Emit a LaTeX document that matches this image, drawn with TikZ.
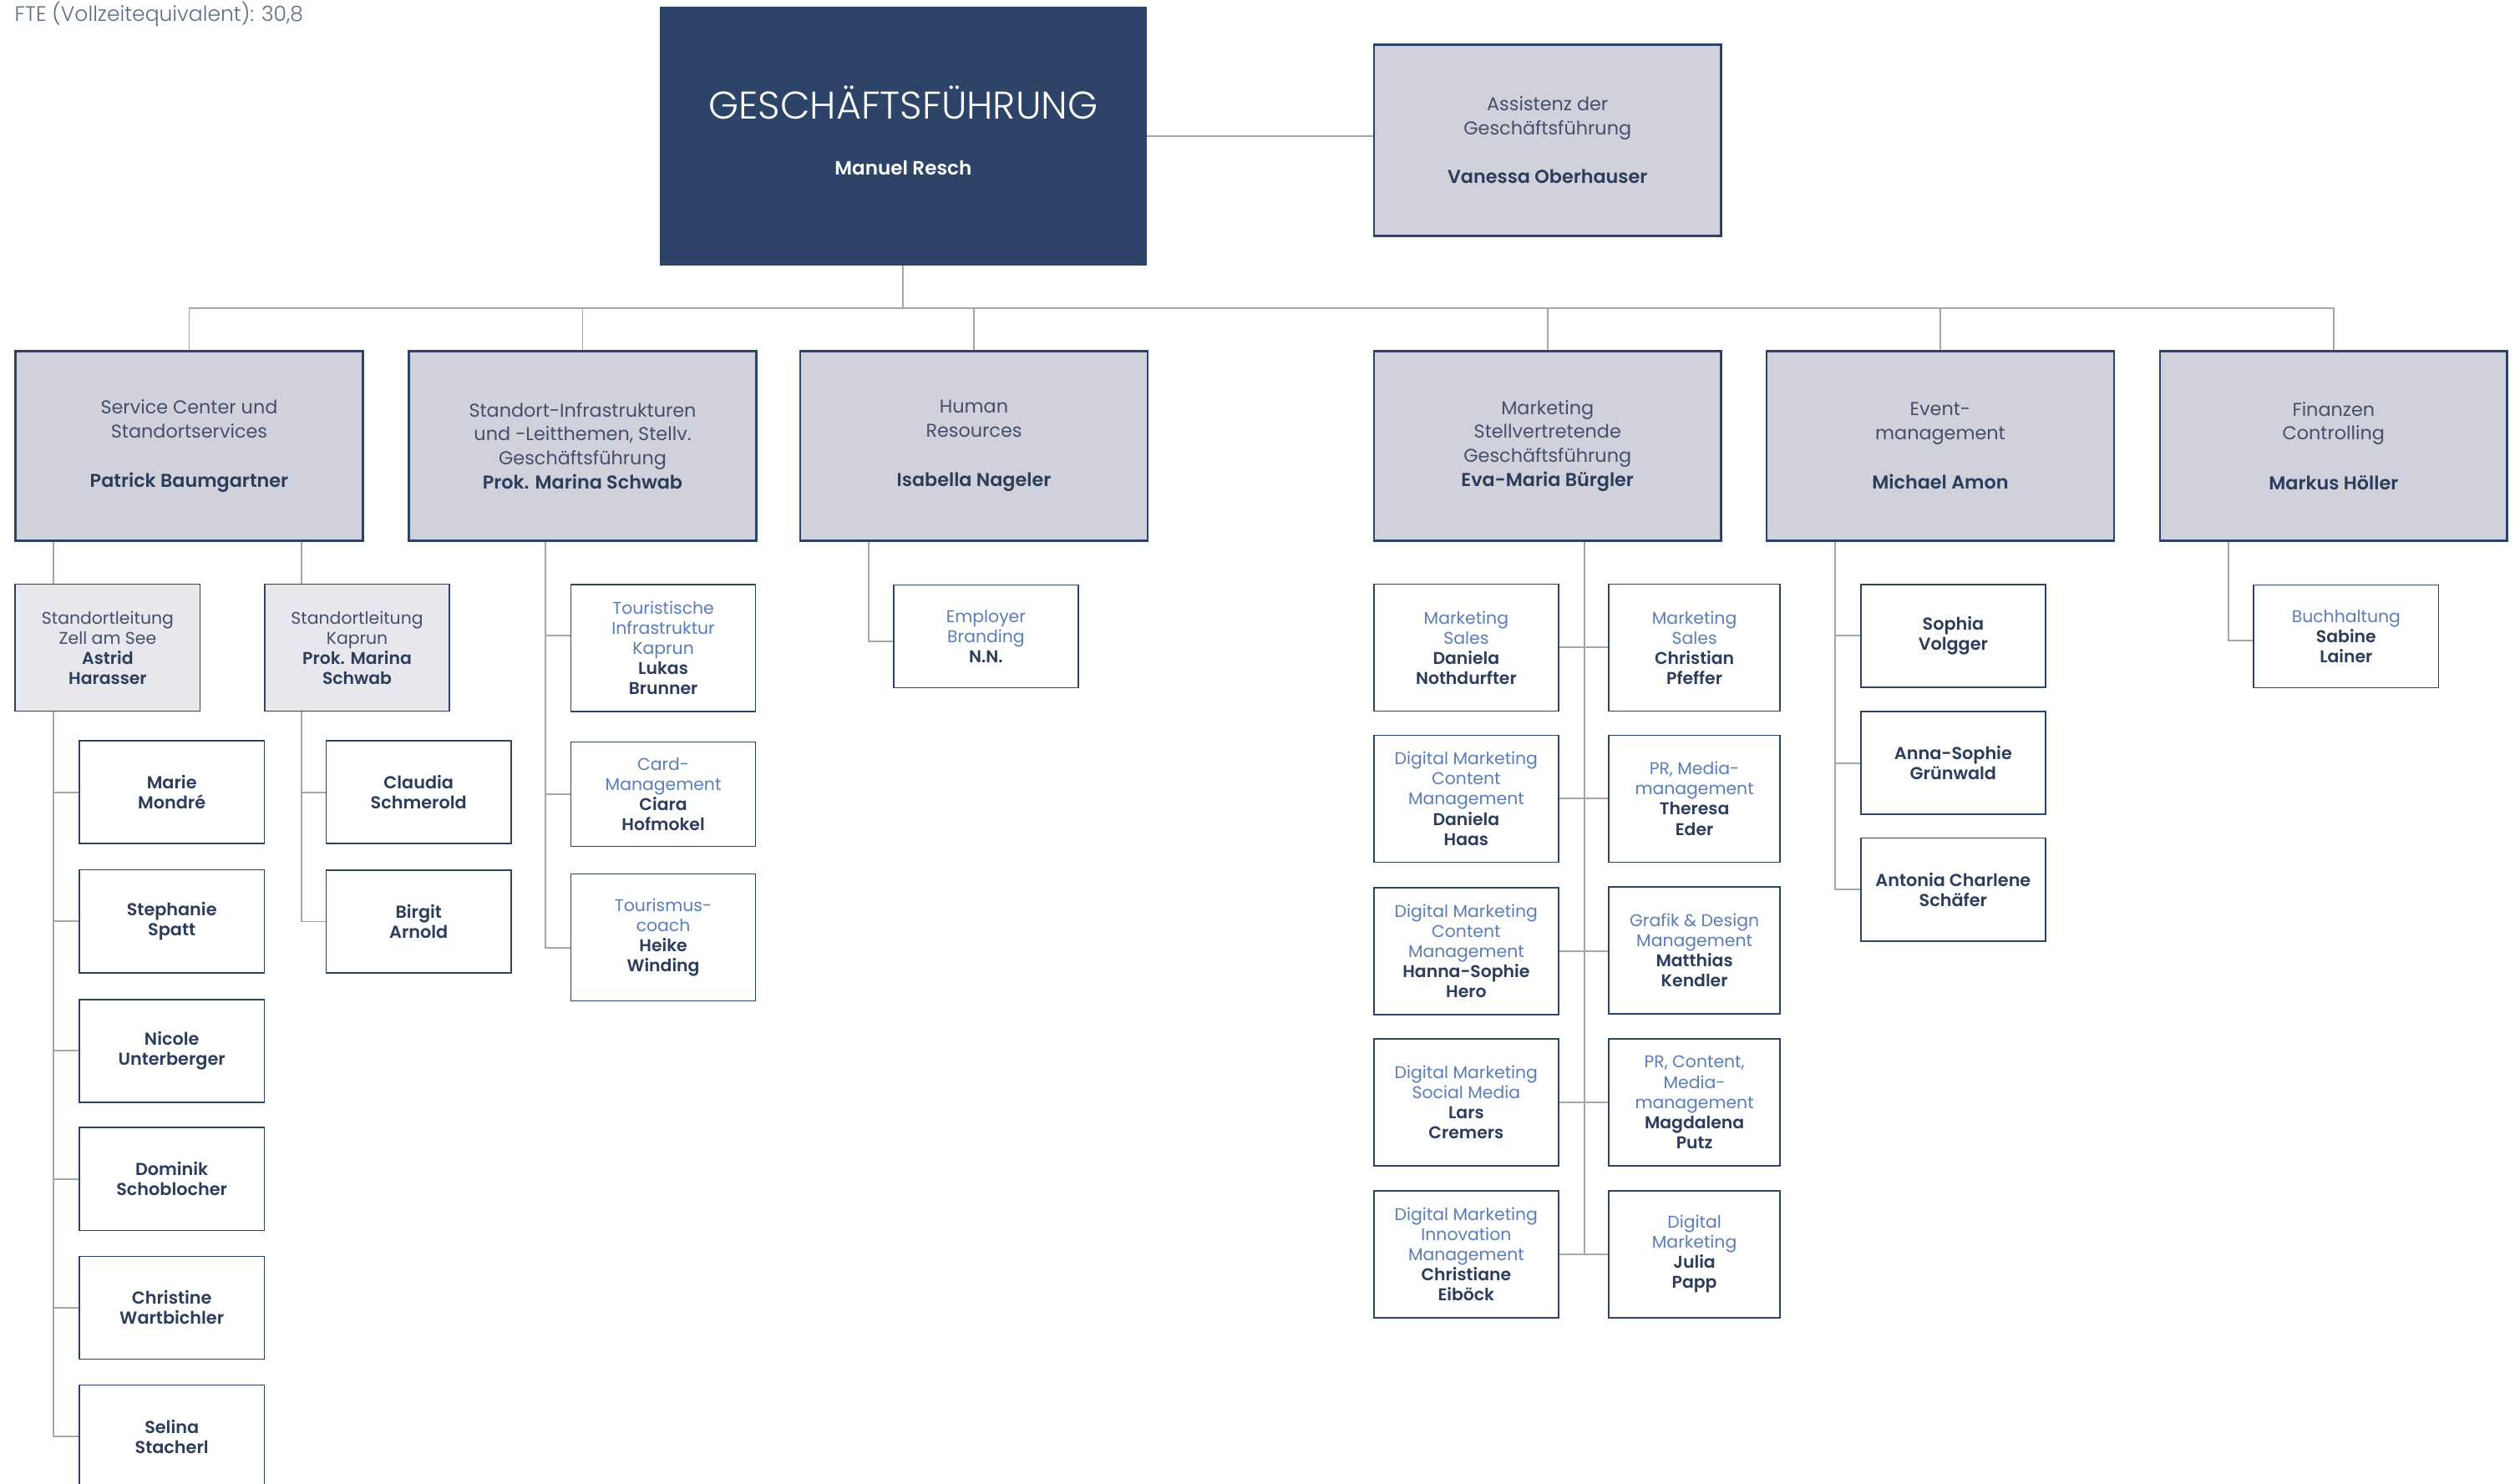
\documentclass[tikz,border=0pt]{standalone}
\usepackage{fontspec}
\setmainfont{Poppins}[BoldFont=* SemiBold]
\newfontfamily\lightfont{Poppins Light}
\definecolor{navy}{HTML}{2D4468}
\definecolor{deptfill}{HTML}{D0D1DB}
\definecolor{leadfill}{HTML}{E7E7ED}
\definecolor{roleblue}{HTML}{5B7DB8}
\definecolor{namenavy}{HTML}{2C3D5C}
\definecolor{plain}{HTML}{44506B}
\definecolor{ftegray}{HTML}{5B6A85}
\definecolor{linegray}{HTML}{A6A6A6}
\newcommand{\who}[1]{\textcolor{namenavy}{\bfseries #1}}
\begin{document}
\begin{tikzpicture}[x=1pt,y=-1pt,
    conn/.style={draw=linegray,line width=1pt},
    gf/.style={fill=navy,text=white,minimum width=303,minimum height=161,inner sep=0,align=center},
    dept/.style={draw=navy,fill=deptfill,line width=1.3pt,minimum width=216,minimum height=118,inner sep=0,align=center,text=plain,font=\fontsize{11.6}{15}\selectfont},
    lead/.style={draw=navy,fill=leadfill,line width=0.9pt,minimum width=115,minimum height=79,inner sep=0,align=center,text=plain,font=\fontsize{10.6}{12.5}\selectfont},
    role/.style={draw=navy,fill=white,line width=0.8pt,minimum width=115,minimum height=79,inner sep=0,align=center,text=roleblue,font=\fontsize{10.6}{12.5}\selectfont},
    person/.style={role,minimum height=64,text=namenavy,font=\bfseries\fontsize{10.8}{12.5}\selectfont}]
\useasboundingbox (0,0) rectangle (1568,923.5);
\node[anchor=base west,inner sep=0,text=ftegray,font=\lightfont\fontsize{13}{15}\selectfont] (fte) at (9,13.5) {FTE (Vollzeitequivalent): 30,8};

\node[gf,text depth=7pt] (gf) at (562,84.8) {{\lightfont\fontsize{24}{28}\selectfont GESCHÄFTSFÜHRUNG}\\[23pt]{\bfseries\fontsize{12}{15}\selectfont Manuel Resch}};
\node[dept,minimum height=119] (assist) at (962.9,87.2) {Assistenz der\\Geschäftsführung\\[15pt]\who{Vanessa Oberhauser}};

\node[dept] (d1) at (117.7,277.5) {Service Center und\\Standortservices\\[16pt]\who{Patrick Baumgartner}};
\node[dept] (d2) at (362.5,277.5) {Standort-Infrastrukturen\\und -Leitthemen, Stellv.\\Geschäftsführung\\\who{Prok. Marina Schwab}};
\node[dept] (d3) at (606,277.5) {Human\\Resources\\[16pt]\who{Isabella Nageler}};
\node[dept] (d4) at (962.9,277.5) {Marketing\\Stellvertretende\\Geschäftsführung\\\who{Eva-Maria Bürgler}};
\node[dept] (d5) at (1207.3,277.5) {Event-\\management\\[16pt]\who{Michael Amon}};
\node[dept] (d6) at (1452,277.5) {Finanzen\\Controlling\\[16pt]\who{Markus Höller}};

\node[lead] (sl1) at (67,403) {Standortleitung\\Zell am See\\\who{Astrid}\\\who{Harasser}};
\node[lead] (sl2) at (222.2,403) {Standortleitung\\Kaprun\\\who{Prok. Marina}\\\who{Schwab}};
\node[person] (pa1) at (106.9,493) {Marie\\Mondré};
\node[person] (pa2) at (106.9,573.4) {Stephanie\\Spatt};
\node[person] (pa3) at (106.9,654) {Nicole\\Unterberger};
\node[person] (pa4) at (106.9,733.7) {Dominik\\Schoblocher};
\node[person] (pa5) at (106.9,813.8) {Christine\\Wartbichler};
\node[person] (pa6) at (106.9,894) {Selina\\Stacherl};
\node[person] (pb1) at (260.5,493) {Claudia\\Schmerold};
\node[person] (pb2) at (260.5,573.5) {Birgit\\Arnold};

\node[role] (t1) at (412.7,403.2) {Touristische\\Infrastruktur\\Kaprun\\\who{Lukas}\\\who{Brunner}};
\node[role,minimum height=65] (t2) at (412.7,494.3) {Card-\\Management\\\who{Ciara}\\\who{Hofmokel}};
\node[role] (t3) at (412.7,583.4) {Tourismus-\\coach\\\who{Heike}\\\who{Winding}};

\node[role,minimum height=64] (hr) at (613.5,396) {Employer\\Branding\\\who{N.N.}};

\node[role] (m1) at (912.3,403) {Marketing\\Sales\\\who{Daniela}\\\who{Nothdurfter}};
\node[role] (m2) at (912.3,497) {Digital Marketing\\Content\\Management\\\who{Daniela}\\\who{Haas}};
\node[role] (m3) at (912.3,592) {Digital Marketing\\Content\\Management\\\who{Hanna-Sophie}\\\who{Hero}};
\node[role] (m4) at (912.3,686) {Digital Marketing\\Social Media\\\who{Lars}\\\who{Cremers}};
\node[role] (m5) at (912.3,780.5) {Digital Marketing\\Innovation\\Management\\\who{Christiane}\\\who{Eiböck}};
\node[role,minimum width=106.6] (r1) at (1054.3,403) {Marketing\\Sales\\\who{Christian}\\\who{Pfeffer}};
\node[role,minimum width=106.6] (r2) at (1054.3,497) {PR, Media-\\management\\\who{Theresa}\\\who{Eder}};
\node[role,minimum width=106.6] (r3) at (1054.3,591.5) {Grafik \& Design\\Management\\\who{Matthias}\\\who{Kendler}};
\node[role,minimum width=106.6] (r4) at (1054.3,686) {PR, Content,\\Media-\\management\\\who{Magdalena}\\\who{Putz}};
\node[role,minimum width=106.6] (r5) at (1054.3,780.5) {Digital\\Marketing\\\who{Julia}\\\who{Papp}};

\node[person] (e1) at (1215.3,395.7) {Sophia\\Volgger};
\node[person] (e2) at (1215.3,474.8) {Anna-Sophie\\Grünwald};
\node[person] (e3) at (1215.3,553.6) {Antonia Charlene\\Schäfer};

\node[role,minimum height=64] (fin) at (1459.8,396) {Buchhaltung\\\who{Sabine}\\\who{Lainer}};

\coordinate (bus) at (562,191.8);
\coordinate (spa) at (33.4,0);
\coordinate (spb) at (187.5,0);
\coordinate (spt) at (339.5,0);
\coordinate (sph) at (540.6,0);
\coordinate (spm) at (986,0);
\coordinate (spe) at (1142,0);
\coordinate (spf) at (1386.6,0);

\draw[conn] (gf.east) -- (gf.east -| assist.west);
\draw[conn] (gf.south) -- (bus);
\draw[conn] (d1.north) |- (bus) -| (d6.north);
\draw[conn] (d2.north) -- (d2.north |- bus);
\draw[conn] (d3.north) -- (d3.north |- bus);
\draw[conn] (d4.north) -- (d4.north |- bus);
\draw[conn] (d5.north) -- (d5.north |- bus);

\draw[conn] (d1.south -| spa) -- (sl1.north -| spa);
\draw[conn] (sl1.south -| spa) |- (pa6.west);
\draw[conn] (pa1.west) -- (pa1.west -| spa);
\draw[conn] (pa2.west) -- (pa2.west -| spa);
\draw[conn] (pa3.west) -- (pa3.west -| spa);
\draw[conn] (pa4.west) -- (pa4.west -| spa);
\draw[conn] (pa5.west) -- (pa5.west -| spa);
\draw[conn] (d1.south -| spb) -- (sl2.north -| spb);
\draw[conn] (sl2.south -| spb) |- (pb2.west);
\draw[conn] (pb1.west) -- (pb1.west -| spb);

\draw[conn] (d2.south -| spt) |- ([yshift=-6.6]t3.west);
\draw[conn] ([yshift=7.5]t1.west) -- ([yshift=7.5]t1.west -| spt);
\draw[conn] (t2.west) -- (t2.west -| spt);

\draw[conn] (d3.south -| sph) |- ([yshift=-3]hr.west);

\draw[conn] (d4.south -| spm) -- (m5.east -| spm);
\draw[conn] (m1.east) -- (m1.east -| r1.west);
\draw[conn] (m2.east) -- (m2.east -| r2.west);
\draw[conn] (m3.east) -- (m3.east -| r3.west);
\draw[conn] (m4.east) -- (m4.east -| r4.west);
\draw[conn] (m5.east) -- (m5.east -| r5.west);

\draw[conn] (d5.south -| spe) |- (e3.west);
\draw[conn] (e1.west) -- (e1.west -| spe);
\draw[conn] (e2.west) -- (e2.west -| spe);

\draw[conn] (d6.south -| spf) |- ([yshift=-2.5]fin.west);
\end{tikzpicture}
\end{document}
